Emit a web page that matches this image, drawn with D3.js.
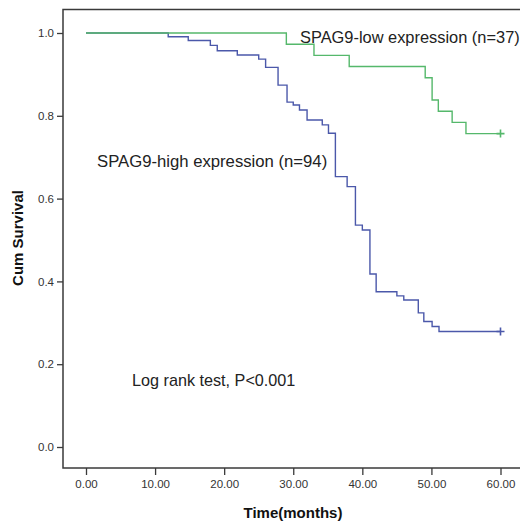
<!DOCTYPE html>
<html><head><meta charset="utf-8">
<script src="https://cdn.jsdelivr.net/npm/d3@7"></script>
<style>body{margin:0;background:#fff}svg{display:block}</style>
</head><body><svg id="c" width="520" height="523"></svg>
<script>
const xTicks = [0, 10, 20, 30, 40, 50, 60];
const yTicks = [0.0, 0.2, 0.4, 0.6, 0.8, 1.0];
// Kaplan-Meier steps: [time, survival after event]
const lowTimes = [0, 29, 33, 38.1, 49.1, 50.1, 51, 53, 55];
const lowSurv  = [1.0, 0.973, 0.946, 0.919, 0.892, 0.838, 0.811, 0.784, 0.757];
const highTimes = [0, 11.9, 14.8, 18, 19, 21.9, 25, 26, 27.8, 29.1, 30, 30.9, 32, 34.2, 35.1, 36.1, 37.8, 39, 40, 41.1, 42, 45, 46, 48.1, 48.9, 50.1, 51.1];
const highSurv  = [1.0, 0.991, 0.982, 0.970, 0.957, 0.947, 0.937, 0.917, 0.874, 0.833, 0.826, 0.814, 0.790, 0.778, 0.758, 0.653, 0.629, 0.536, 0.524, 0.418, 0.375, 0.365, 0.355, 0.324, 0.303, 0.291, 0.279];
const endTime = 60;
const labels = {
  low: "SPAG9-low expression (n=37)",
  high: "SPAG9-high expression (n=94)",
  test: "Log rank test, P<0.001",
  x: "Time(months)",
  y: "Cum Survival"
};

const svg = d3.select("#c");
const frame = {l: 63, r: 523, t: 9.5, b: 468};
const x = d3.scaleLinear().domain([0, 60]).range([86, 500.5]);
const y = d3.scaleLinear().domain([0, 1]).range([447, 33]);

// frame
svg.append("rect").attr("x", frame.l).attr("y", frame.t)
  .attr("width", frame.r - frame.l).attr("height", frame.b - frame.t)
  .attr("fill", "none").attr("stroke", "#3a3a3a").attr("stroke-width", 1.5);

// axes
const xAxis = d3.axisBottom(x).tickValues(xTicks).tickFormat(d3.format(".2f")).tickSize(7).tickSizeOuter(0);
const gx = svg.append("g").attr("transform", `translate(0,${frame.b})`).call(xAxis);
gx.select(".domain").remove();
gx.selectAll("line").attr("stroke", "#3a3a3a").attr("stroke-width", 1.3);
gx.selectAll("text").attr("font-family", "Liberation Sans, Arial, sans-serif").attr("font-size", 11.5).attr("fill", "#333").attr("dy", "0.95em").attr("y", 9);

const yAxis = d3.axisLeft(y).tickValues(yTicks).tickFormat(d3.format(".1f")).tickSize(6).tickSizeOuter(0);
const gy = svg.append("g").attr("transform", `translate(${frame.l},0)`).call(yAxis);
gy.select(".domain").remove();
gy.selectAll("line").attr("stroke", "#3a3a3a").attr("stroke-width", 1.3);
gy.selectAll("text").attr("font-family", "Liberation Sans, Arial, sans-serif").attr("font-size", 11.5).attr("fill", "#333").attr("x", -9);

// curves
function stepData(times, surv) {
  const pts = times.map((t, i) => [t, surv[i]]);
  pts.push([endTime, surv[surv.length - 1]]);
  return pts;
}
const line = d3.line().x(d => x(d[0])).y(d => y(d[1])).curve(d3.curveStepAfter);
const series = [
  {times: highTimes, surv: highSurv, color: "#4b58aa"},
  {times: lowTimes, surv: lowSurv, color: "#55b86b"}
];
series.forEach(s => {
  svg.append("path").datum(stepData(s.times, s.surv)).attr("d", line)
    .attr("fill", "none").attr("stroke", s.color).attr("stroke-width", 1.4);
  const last = s.surv[s.surv.length - 1];
  const cx = x(endTime), cy = y(last);
  svg.append("path").attr("d", `M${cx - 4},${cy}H${cx + 4}M${cx},${cy - 4}V${cy + 4}`)
    .attr("stroke", s.color).attr("stroke-width", 1.6);
});

// annotations
const font = "Liberation Sans, Arial, sans-serif";
svg.append("text").attr("x", 300).attr("y", 43).text(labels.low)
  .attr("font-family", font).attr("font-size", 16.4).attr("fill", "#222");
svg.append("text").attr("x", 97).attr("y", 167).text(labels.high)
  .attr("font-family", font).attr("font-size", 16.7).attr("fill", "#222");
svg.append("text").attr("x", 132).attr("y", 386).text(labels.test)
  .attr("font-family", font).attr("font-size", 16.2).attr("fill", "#222");

svg.append("text").attr("x", 293).attr("y", 518).attr("text-anchor", "middle").text(labels.x)
  .attr("font-family", font).attr("font-size", 15).attr("font-weight", "bold").attr("fill", "#111");
svg.append("text").attr("transform", "translate(23,238) rotate(-90)").attr("text-anchor", "middle").text(labels.y)
  .attr("font-family", font).attr("font-size", 15).attr("font-weight", "bold").attr("fill", "#111");
</script></body></html>
